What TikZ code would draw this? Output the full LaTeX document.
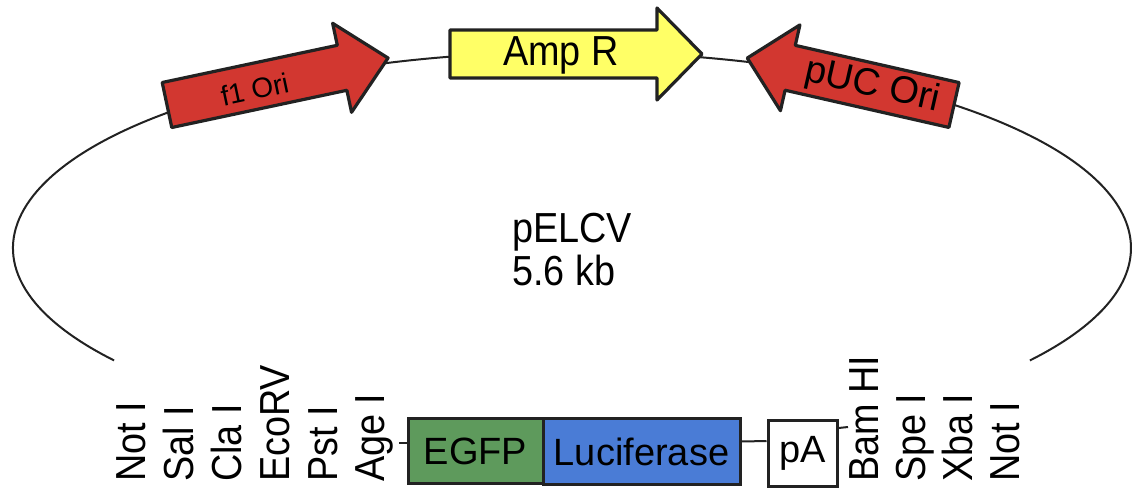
\documentclass[tikz,border=0pt]{standalone}
\usepackage{fontspec}
\setmainfont{Liberation Sans}
\newfontfamily\condfont{Liberation Sans}[FakeStretch=0.9]
\definecolor{orired}{RGB}{210,55,48}
\definecolor{ampyellow}{RGB}{255,255,102}
\definecolor{egfpgreen}{RGB}{94,154,92}
\definecolor{lucblue}{RGB}{74,124,214}
\definecolor{edge}{RGB}{34,34,34}
\tikzset{
  backbone/.style={line width=2pt, draw=edge},
  gene/.style={line width=3.2pt, draw=edge, line join=round},
  box/.style={draw=edge, line width=3pt, inner sep=0pt, font=\fontsize{38}{44}\selectfont},
  site/.style={rotate=90, anchor=base west, inner sep=0pt, font=\condfont\fontsize{42}{48}\selectfont},
  bigtxt/.style={anchor=base west, inner sep=0pt, font=\condfont\fontsize{42}{48}\selectfont},
}
\begin{document}
\begin{tikzpicture}[x=1pt,y=1pt]
\useasboundingbox (0,0) rectangle (1133,-488);
\coordinate (c) at (572,-248);
% plasmid backbone
\draw[backbone] (c) ++(215:559pt and 196pt) arc[start angle=215, end angle=-35, x radius=559pt, y radius=196pt];
% f1 Ori
\begin{scope}[shift={(167,-105)}, rotate=12]
  \draw[gene, fill=orired] (0,23) -- (179,23) -- (179,45.5) -- (226,0) -- (179,-45.5) -- (179,-23) -- (0,-23) -- cycle;
  \node[transform shape, inner sep=0pt, font=\fontsize{28}{32}\selectfont] (f1) at (89,-3) {f1 Ori};
\end{scope}
% Amp R
\begin{scope}[shift={(450,-54)}]
  \draw[gene, fill=ampyellow] (0,24) -- (207,24) -- (207,46) -- (252,0) -- (207,-46) -- (207,-24) -- (0,-24) -- cycle;
  \node[bigtxt] (amp) at (53,-11) {Amp R};
\end{scope}
% pUC Ori
\begin{scope}[shift={(954,-105)}, rotate=167.2]
  \draw[gene, fill=orired] (0,23) -- (168,23) -- (168,44) -- (212,0) -- (168,-44) -- (168,-23) -- (0,-23) -- cycle;
  \node[transform shape, rotate=180, inner sep=0pt, font=\fontsize{38}{44}\selectfont] (puc) at (84,0) {pUC Ori};
\end{scope}
% centre label
\node[bigtxt] (pname) at (512,-242) {pELCV};
\node[bigtxt] (psize) at (512,-285) {5.6 kb};
% cassette
\node[box, fill=egfpgreen, minimum width=135pt, minimum height=65pt] (egfp) at (475.5,-451) {EGFP};
\node[box, fill=lucblue, minimum width=197pt, minimum height=66pt] (luc) at (641.5,-451.5) {Luciferase};
\node[box, fill=white, minimum width=69pt, minimum height=66pt] (pa) at (802.5,-453) {pA};
% restriction sites
\node[site] (s1) at (145,-482) {Not I};
\node[site] (s2) at (193,-482) {Sal I};
\node[site] (s3) at (241,-482) {Cla I};
\node[site] (s4) at (289,-482) {EcoRV};
\node[site] (s5) at (337,-482) {Pst I};
\node[site] (s6) at (384,-482) {Age I};
\node[site] (s7) at (878,-482) {Bam HI};
\node[site] (s8) at (925,-482) {Spe I};
\node[site] (s9) at (972,-482) {Xba I};
\node[site] (s10) at (1019,-482) {Not I};
% connectors
\coordinate (agestub) at (399,-443);
\coordinate (bamstub) at (848,-427);
\draw[backbone] (agestub) -- (egfp.west |- agestub);
\draw[backbone] ([yshift=10pt]luc.east) -- ([yshift=12pt]pa.west);
\draw[backbone] ([yshift=25pt]pa.east) -- (bamstub);
\end{tikzpicture}
\end{document}
